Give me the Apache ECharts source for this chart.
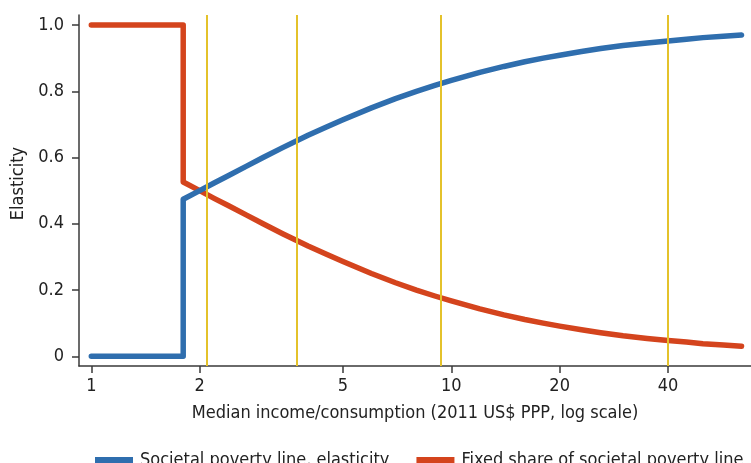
<!DOCTYPE html>
<html>
<head>
<meta charset="utf-8">
<script src="https://cdn.jsdelivr.net/npm/echarts@6/dist/echarts.min.js"></script>
<style>html,body{margin:0;padding:0;background:#fff}#c{width:751px;height:463px}</style>
</head>
<body>
<div id="c"></div>
<script>
// Median income/consumption (2011 US$ PPP)
var incomeX = [1, 1.8, 1.8, 2, 2.2, 2.4, 2.7, 3, 3.4, 4, 4.5, 5, 6, 7, 8, 9, 10, 12, 14, 16, 18, 20, 23, 26, 30, 35, 40, 45, 50, 57, 64];
// Societal poverty line, elasticity
var splElasticity = [0, 0, 0.474, 0.500, 0.524, 0.545, 0.574, 0.600, 0.630, 0.667, 0.692, 0.714, 0.750, 0.778, 0.800, 0.818, 0.833, 0.857, 0.875, 0.889, 0.900, 0.909, 0.920, 0.929, 0.938, 0.946, 0.952, 0.957, 0.962, 0.966, 0.970];
// Fixed share of societal poverty line
var fixedShare = [1, 1, 0.526, 0.500, 0.476, 0.455, 0.426, 0.400, 0.370, 0.333, 0.308, 0.286, 0.250, 0.222, 0.200, 0.182, 0.167, 0.143, 0.125, 0.111, 0.100, 0.091, 0.080, 0.071, 0.062, 0.054, 0.048, 0.043, 0.038, 0.034, 0.030];
// Vertical reference lines
var refLines = [2.1, 3.7, 9.4, 40];
// Tick labels
var xTicks = [1, 2, 5, 10, 20, 40];
var yTicks = [0, 0.2, 0.4, 0.6, 0.8, 1.0];

var FONT = '"Liberation Sans Narrow", "DejaVu Sans Condensed", "Liberation Sans", sans-serif';
var lg = function (v) { return Math.log10(v); };

var chart = echarts.init(document.getElementById('c'), null, {renderer: 'canvas'});
var blue = '#2f6eae', red = '#d4441d', yellow = '#e4c22b', axisCol = '#3a3a3a';

chart.setOption({
  animation: false,
  backgroundColor: '#fff',
  grid: {left: 79, right: 0, top: 15, bottom: 97, containLabel: false},
  legend: {
    left: 90, top: 446, width: 700,
    itemWidth: 38, itemHeight: 6, itemGap: 27,
    icon: 'rect',
    textStyle: {fontFamily: FONT, fontSize: 18, color: '#222', padding: [0, 0, 0, 2]},
    data: ['Societal poverty line, elasticity', 'Fixed share of societal poverty line']
  },
  xAxis: {
    type: 'value',
    min: -0.0342, max: 1.8325,
    name: 'Median income/consumption (2011 US$ PPP, log scale)',
    nameLocation: 'middle', nameGap: 38,
    nameTextStyle: {fontFamily: FONT, fontSize: 18, color: '#222'},
    axisLine: {show: true, onZero: false, lineStyle: {color: axisCol, width: 1.5}},
    axisTick: {show: true, length: 7, customValues: xTicks.map(lg), lineStyle: {color: axisCol, width: 1.5}},
    axisLabel: {
      customValues: xTicks.map(lg), margin: 11,
      fontFamily: FONT, fontSize: 18, color: '#222',
      formatter: function (v) { return String(Math.round(Math.pow(10, v))); }
    },
    splitLine: {show: false}
  },
  yAxis: {
    type: 'value',
    min: -0.0293, max: 1.0303,
    name: 'Elasticity',
    nameLocation: 'middle', nameGap: 52,
    nameTextStyle: {fontFamily: FONT, fontSize: 18, color: '#222', padding: [0, 0, 0, 14]},
    axisLine: {show: true, onZero: false, lineStyle: {color: axisCol, width: 1.5}},
    axisTick: {show: true, length: 7, customValues: yTicks, lineStyle: {color: axisCol, width: 1.5}},
    axisLabel: {
      customValues: yTicks, margin: 15,
      fontFamily: FONT, fontSize: 18, color: '#222',
      formatter: function (v) { return v === 0 ? '0' : v.toFixed(1); }
    },
    splitLine: {show: false}
  },
  series: [
    {
      name: 'refs', type: 'line', data: [], z: 1,
      markLine: {
        silent: true, symbol: ['none', 'none'], label: {show: false},
        lineStyle: {color: yellow, width: 2, type: 'solid'},
        data: refLines.map(function (v) { return {xAxis: lg(v)}; })
      }
    },
    {
      name: 'Fixed share of societal poverty line', type: 'line', z: 3,
      showSymbol: false, smooth: false,
      lineStyle: {color: red, width: 5.5, cap: 'round', join: 'round'},
      itemStyle: {color: red},
      data: incomeX.map(function (x, i) { return [lg(x), fixedShare[i]]; })
    },
    {
      name: 'Societal poverty line, elasticity', type: 'line', z: 4,
      showSymbol: false, smooth: false,
      lineStyle: {color: blue, width: 5.5, cap: 'round', join: 'round'},
      itemStyle: {color: blue},
      data: incomeX.map(function (x, i) { return [lg(x), splElasticity[i]]; })
    }
  ]
});
</script>
</body>
</html>
